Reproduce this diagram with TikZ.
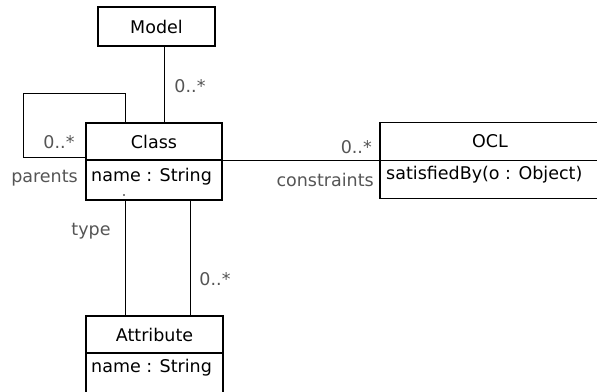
\documentclass[tikz,border=0pt]{standalone}
\usepackage{fontspec}
\setmainfont{DejaVu Sans}
\definecolor{lbl}{HTML}{555555}
\begin{document}
\begin{tikzpicture}[x=1pt,y=-1pt,
  box/.style={draw=black,line width=1.1pt,fill=white,inner sep=0pt,outer sep=0pt,font=\fontsize{17.5}{20}\selectfont},
  lab/.style={text=lbl,inner sep=0pt,font=\fontsize{17.5}{20}\selectfont},
  txt/.style={anchor=west,inner sep=0pt,font=\fontsize{17.5}{20}\selectfont},
  wire/.style={line width=1pt,draw=black}]
\useasboundingbox (0,0) rectangle (597,391);
\begin{scope}
\clip (0,0) rectangle (597,391);
% Model
\node[box,minimum width=117pt,minimum height=39pt] (model) at (156.5,26.5) {Model};
% Class
\node[box,minimum width=136pt,minimum height=37pt] (classh) at (154,141.5) {Class};
\node[box,minimum width=136pt,minimum height=40pt,anchor=north] (classb) at (classh.south) {};
\node[txt] (classattr) at (91,177) {name : String};
\fill (124,195) circle (0.9pt);
% OCL
\node[box,minimum width=220pt,minimum height=38pt] (oclh) at (490,141.5) {OCL};
\node[box,minimum width=220pt,minimum height=38pt,anchor=north] (oclb) at (oclh.south) {};
\node[txt] (oclop) at (386,175) {satisfiedBy(o : Object)};
% Attribute
\node[box,minimum width=137pt,minimum height=37pt] (attrh) at (154.5,334.5) {Attribute};
\node[box,minimum width=137pt,minimum height=50pt,anchor=north] (attrb) at (attrh.south) {};
\node[txt] (attrattr) at (91,368) {name : String};
% connectors
\draw[wire] ([xshift=7.5pt]model.south) -- ([xshift=10pt]classh.north);
\coordinate (l2) at (23,93);
\coordinate (l3) at (23,157);
\draw[wire] ([xshift=-29pt]classh.north) |- (l2) -- (l3) -- (l3 -| classh.west);
\draw[wire] (classh.south east) -- (classh.south east -| oclh.west);
\draw[wire] ([xshift=-29pt]classb.south) -- ([xshift=-29.5pt]attrh.north);
\draw[wire] ([xshift=36pt]classb.south) -- ([xshift=35.5pt]attrh.north);
% labels
\node[lab] (m1) at (190,86) {0..*};
\node[lab] (m2) at (59,142) {0..*};
\node[lab,anchor=east] (m3) at (78,178) {parents};
\node[lab,anchor=east] (m4) at (372,147) {0..*};
\node[lab,anchor=east] (m5) at (374,180) {constraints};
\node[lab] (m6) at (91,231) {type};
\node[lab] (m7) at (215,279) {0..*};
\end{scope}
\end{tikzpicture}
\end{document}
